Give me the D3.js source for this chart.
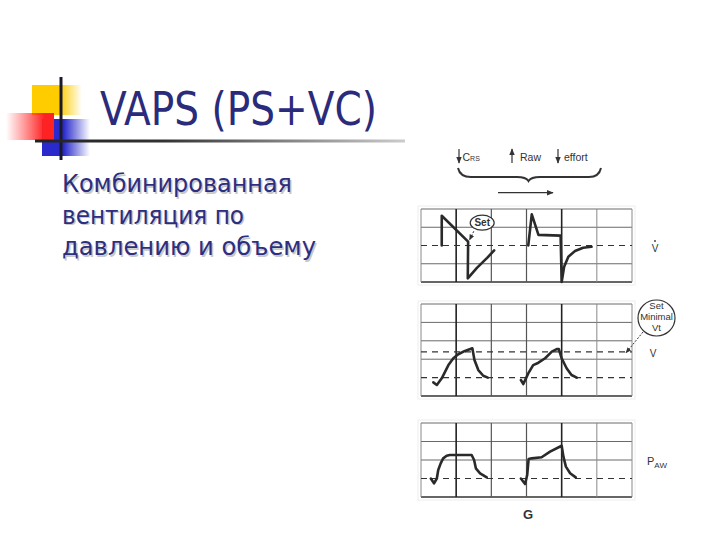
<!DOCTYPE html>
<html><head><meta charset="utf-8">
<script src="https://cdn.jsdelivr.net/npm/d3@7"></script>
<style>html,body{margin:0;padding:0;background:#fff;}svg{display:block;}</style>
</head><body>
<script>
// ---- data ----
const titleText = "VAPS (PS+VC)";
const bodyLines = ["Комбинированная", "вентиляция по", "давлению и объему"];
const headerLabels = ["C", "Raw", "effort"];
const gridCols = [0, 1, 2, 3, 4, 5, 6];

// flow (V̇) waveform, x in grid columns, y in grid rows
const flowBreath1 = [[0.59,0],[0.59,1.63],[1.34,0.21],[1.33,-1.80],[1.59,-1.23],[1.88,-0.68],[2.08,-0.27]];
const flowBreath2 = [[3.05,0],[3.15,1.71],[3.34,0.58],[3.97,0.54],[4.0,-2.0],[4.07,-1.16],[4.19,-0.61],[4.38,-0.30],[4.61,-0.12],[4.85,-0.07]];
// volume (V)
const volBreath1 = [[0.35,-0.26],[0.45,-0.40],[0.59,-0.04],[0.78,0.68],[0.92,1.05],[1.06,1.27],[1.25,1.45],[1.46,1.59],[1.52,0.96],[1.63,0.41],[1.77,0.10],[1.90,0]];
const volBreath2 = [[2.84,-0.13],[2.91,-0.35],[3.05,0.23],[3.19,0.68],[3.34,0.81],[3.53,1.05],[3.72,1.41],[3.86,1.55],[3.92,1.55],[4.0,1.05],[4.14,0.51],[4.28,0.14],[4.43,0]];
// pressure (PAW)
const pawBreath1 = [[0.28,0],[0.37,-0.26],[0.45,0],[0.49,0.46],[0.56,0.82],[0.63,1.09],[0.73,1.23],[0.82,1.27],[1.44,1.27],[1.51,1.0],[1.56,0.55],[1.68,0.28],[1.87,0.06]];
const pawBreath2 = [[2.84,0],[2.96,-0.30],[3.02,0.19],[3.06,1.05],[3.15,1.09],[3.43,1.15],[3.67,1.45],[4.0,1.77],[4.05,1.18],[4.12,0.64],[4.24,0.28],[4.40,0.06]];

const flowSolid = [-2,-1,1,2], flowDashed = [0];
const volSolid = [-1,1,2,3,4], volDashed = [0, 1.4];
const pawSolid = [-1,1,2,3], pawDashed = [0];

// ---- drawing ----
const W = 720, H = 540;
const svg = d3.select("body").append("svg").attr("width", W).attr("height", H);
const defs = svg.append("defs");

function lin(id, stops, x1="0%", x2="100%") {
  const g = defs.append("linearGradient").attr("id", id).attr("x1", x1).attr("x2", x2).attr("y1","0%").attr("y2","0%");
  stops.forEach(s => g.append("stop").attr("offset", s[0]).attr("stop-color", s[1]).attr("stop-opacity", s[2] ?? 1));
}
lin("gYel", [["0%","#ffcc00"],["55%","#ffcc00"],["100%","#ffcc00",0]]);
lin("gRed", [["0%","#ff3333",0],["80%","#ff2222"],["100%","#ff2222"]]);
lin("gBlue", [["0%","#2a2acc"],["45%","#2a2acc"],["100%","#2a2acc",0]]);
lin("gLine", [["0%","#222"],["35%","#333"],["70%","#888"],["100%","#ccc"]]);
const mk = defs.append("marker").attr("id","arr").attr("viewBox","0 0 10 10").attr("refX",9).attr("refY",5)
  .attr("markerWidth",6).attr("markerHeight",6).attr("orient","auto-start-reverse");
mk.append("path").attr("d","M0,1 L10,5 L0,9 z").attr("fill","#333");

// decoration
svg.append("rect").attr("x",32).attr("y",85).attr("width",50).attr("height",30).attr("fill","url(#gYel)");
svg.append("rect").attr("x",42).attr("y",119).attr("width",48).attr("height",37).attr("fill","url(#gBlue)");
svg.append("rect").attr("x",6).attr("y",113).attr("width",48).attr("height",27).attr("fill","url(#gRed)");
svg.append("line").attr("x1",61).attr("x2",61).attr("y1",77).attr("y2",160).attr("stroke","#1a1a2a").attr("stroke-width",3);
svg.append("rect").attr("x",35).attr("y",139.5).attr("width",370).attr("height",3).attr("fill","url(#gLine)");

// title
svg.append("text").attr("x",100).attr("y",125).attr("font-family","'DejaVu Sans Condensed','DejaVu Sans',sans-serif")
  .attr("font-size",47).attr("fill","#2b2b7c").attr("textLength",277).attr("lengthAdjust","spacingAndGlyphs").text(titleText);

// body text with shadow
const bodyY = [192, 223.5, 255], bodyW = [230, 182, 254];
bodyLines.forEach((t,i) => {
  [["#c8c8c8",1.5],["#2e2e80",0]].forEach(([c,o]) => {
    svg.append("text").attr("x",62+o).attr("y",bodyY[i]+o).attr("font-family","'DejaVu Sans Condensed','DejaVu Sans',sans-serif")
      .attr("font-size",24).attr("fill",c).attr("textLength",bodyW[i]).attr("lengthAdjust","spacingAndGlyphs").text(t);
  });
});

// panels
const x = d3.scaleLinear().domain([0,6]).range([421,632]);
const panels = [
  {dom:[-2,2], rng:[282,209], solid:flowSolid, dashed:flowDashed, series:[flowBreath1, flowBreath2]},
  {dom:[-1,4], rng:[396,304], solid:volSolid, dashed:volDashed, series:[volBreath1, volBreath2]},
  {dom:[-1,3], rng:[497,423], solid:pawSolid, dashed:pawDashed, series:[pawBreath1, pawBreath2]},
];
const vStyle = c => (c===1||c===4) ? ["#222",1.6] : (c===2||c===3) ? ["#555",1.2] : ["#8a8a8a",1];
panels.forEach(p => {
  const y = d3.scaleLinear().domain(p.dom).range(p.rng);
  p.y = y;
  const g = svg.append("g");
  g.append("rect").attr("x",x(0)-3).attr("y",y.range()[1]-3).attr("width",x(6)-x(0)+6).attr("height",y.range()[0]-y.range()[1]+6)
    .attr("fill","none").attr("stroke","#eee").attr("stroke-width",1);
  g.selectAll(".h").data(p.solid).join("line").attr("x1",x(0)).attr("x2",x(6)).attr("y1",d=>y(d)).attr("y2",d=>y(d))
    .attr("stroke",d=> d===p.dom[0] ? "#333" : "#6a6a6a").attr("stroke-width",d=> d===p.dom[0] ? 1.6 : 1);
  g.selectAll(".v").data(gridCols).join("line").attr("x1",d=>x(d)).attr("x2",d=>x(d)).attr("y1",y.range()[0]).attr("y2",y.range()[1])
    .attr("stroke",d=>vStyle(d)[0]).attr("stroke-width",d=>vStyle(d)[1]);
  g.selectAll(".d").data(p.dashed).join("line").attr("x1",x(0)).attr("x2",x(6)).attr("y1",d=>y(d)).attr("y2",d=>y(d))
    .attr("stroke","#333").attr("stroke-width",1.1).attr("stroke-dasharray","6,5");
  const line = d3.line().x(d=>x(d[0])).y(d=>y(d[1]));
  g.selectAll(".w").data(p.series).join("path").attr("d",line).attr("fill","none").attr("stroke","#2a2a2a")
    .attr("stroke-width",2.6).attr("stroke-linejoin","round").attr("stroke-linecap","round");
});

const sans = "'Liberation Sans',Arial,sans-serif";
// Set bubble (flow)
const fy = panels[0].y;
svg.append("ellipse").attr("cx",x(1.74)).attr("cy",fy(1.25)).attr("rx",12).attr("ry",7.5).attr("fill","#fff").attr("stroke","#333").attr("stroke-width",1.2);
svg.append("text").attr("x",x(1.74)).attr("y",fy(1.25)+3.5).attr("text-anchor","middle").attr("font-family",sans).attr("font-size",10).attr("font-weight","bold").attr("fill","#333").text("Set");
svg.append("line").attr("x1",x(1.5)).attr("y1",fy(0.78)).attr("x2",x(1.38)).attr("y2",fy(0.3)).attr("stroke","#333").attr("stroke-width",1).attr("stroke-dasharray","2,1.5").attr("marker-end","url(#arr)");

// Set Minimal Vt bubble
svg.append("ellipse").attr("cx",656.5).attr("cy",318).attr("rx",18.5).attr("ry",18).attr("fill","#fff").attr("stroke","#333").attr("stroke-width",1.2);
[["Set",309],["Minimal",320],["Vt",331]].forEach(([t,yy]) =>
  svg.append("text").attr("x",656.5).attr("y",yy).attr("text-anchor","middle").attr("font-family",sans).attr("font-size",9.5).attr("fill","#333").text(t));
svg.append("line").attr("x1",643).attr("y1",332).attr("x2",626).attr("y2",panels[1].y(1.4)+1).attr("stroke","#333").attr("stroke-width",1).attr("stroke-dasharray","2,1.5").attr("marker-end","url(#arr)");

// side labels
svg.append("text").attr("x",655).attr("y",252).attr("text-anchor","middle").attr("font-family",sans).attr("font-size",10).attr("fill","#333").text("V");
svg.append("circle").attr("cx",655).attr("cy",241).attr("r",0.9).attr("fill","#333");
svg.append("text").attr("x",653).attr("y",357).attr("text-anchor","middle").attr("font-family",sans).attr("font-size",10).attr("fill","#333").text("V");
const paw = svg.append("text").attr("x",647).attr("y",465).attr("font-family",sans).attr("font-size",11).attr("fill","#333");
paw.append("tspan").text("P");
paw.append("tspan").attr("font-size",8).attr("dy",3).text("AW");
svg.append("text").attr("x",528).attr("y",519).attr("text-anchor","middle").attr("font-family",sans).attr("font-size",13).attr("font-weight","bold").attr("fill","#333").text("G");

// header
const arrow = (xx,y1,y2) => svg.append("line").attr("x1",xx).attr("x2",xx).attr("y1",y1).attr("y2",y2).attr("stroke","#333").attr("stroke-width",1.2).attr("marker-end","url(#arr)");
arrow(459,149,163); arrow(512,163,149); arrow(558,149,163);
const c = svg.append("text").attr("x",462.5).attr("y",161).attr("font-family",sans).attr("font-size",10.5).attr("fill","#333");
c.append("tspan").text(headerLabels[0]);
c.append("tspan").attr("font-size",7).attr("dy",0).text("RS");
svg.append("text").attr("x",520).attr("y",161).attr("font-family",sans).attr("font-size",10.5).attr("fill","#333").text(headerLabels[1]);
svg.append("text").attr("x",564).attr("y",161).attr("font-family",sans).attr("font-size",10.5).attr("fill","#333").text(headerLabels[2]);
svg.append("path").attr("d","M458,168 Q460,177 471,177 L517,177 Q526,177 528.5,181 Q531,177 540,177 L589,177 Q599,177 601,168")
  .attr("fill","none").attr("stroke","#333").attr("stroke-width",2);
svg.append("line").attr("x1",498).attr("x2",553).attr("y1",192.7).attr("y2",192.7).attr("stroke","#333").attr("stroke-width",1.2).attr("marker-end","url(#arr)");
</script>
</body></html>
